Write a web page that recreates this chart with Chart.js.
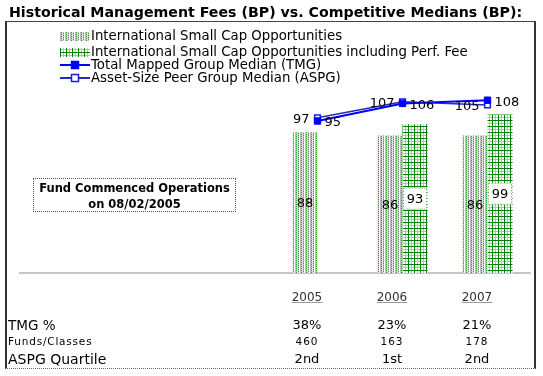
<!DOCTYPE html>
<html>
<head>
<meta charset="utf-8">
<script src="https://cdn.jsdelivr.net/npm/chart.js@4"></script>
<style>
    body { margin: 0; background: #fff; font-family: "DejaVu Sans", Verdana, sans-serif; }
    #wrap { position: relative; width: 543px; height: 376px; overflow: hidden; }
    #chart { position: absolute; left: 0; top: 0; }
    #frame { position: absolute; left: 5px; top: 21px; width: 527px; height: 346px;
             border-left: 2px solid #333; border-top: 1px solid #444;
             border-right: 2px solid #333; border-bottom: 1px dotted #666; }
    .txt { position: absolute; white-space: nowrap; color: #000; }
    #title { left: 9px; top: 4px; font-size: 14.2px; font-weight: bold; }
    .legend-row { position: absolute; left: 60px; height: 14px; font-size: 13.3px; line-height: 14px; white-space: nowrap; }
    .legend-row canvas { position: absolute; left: 0; top: 1px; }
    .legend-row span { position: absolute; left: 31px; top: 0; }
    #note { position: absolute; left: 33px; top: 178px; width: 203px; height: 34px;
            border: 1px dotted #555; font-size: 11.5px; font-weight: bold; text-align: center; line-height: 16px; padding-top: 1px; box-sizing: border-box; }
    .col { position: absolute; width: 60px; text-align: center; white-space: nowrap; }
</style>
</head>
<body>
<div id="wrap">
    <canvas id="chart" width="543" height="376"></canvas>
    <div id="frame"></div>
    <div class="txt" id="title">Historical Management Fees (BP) vs. Competitive Medians (BP):</div>
    <div id="legend"></div>
    <div id="note">Fund Commenced Operations<br>on 08/02/2005</div>
    <div id="table"></div>
</div>
<script>
///////////////////////////// Data /////////////////////////////

const categories = ['', '', '', '2005', '2006', '2007'];
const iscoFees = [null, null, null, 88, 86, 86];
const iscoPerfFees = [null, null, null, null, 93, 99];
const tmgMedian = [null, null, null, 95, 106, 108];
const aspgMedian = [null, null, null, 97, 107, 105];

const tableYears = ['2005', '2006', '2007'];
const tmgPct = ['38%', '23%', '21%'];
const fundsClasses = ['460', '163', '178'];
const aspgQuartile = ['2nd', '1st', '2nd'];

///////////////////////////// Patterns /////////////////////////////

// Light dotted texture for the plain fee bars
function lightPattern(ctx) {
    const tile = document.createElement('canvas');
    tile.width = 5;
    tile.height = 4;
    const t = tile.getContext('2d');
    t.fillStyle = '#ffffff';
    t.fillRect(0, 0, 5, 4);
    t.fillStyle = '#bcbcbc';
    t.fillRect(0, 0, 1, 4);
    t.fillStyle = '#2f9f2f';
    t.fillRect(1, 0, 1, 1);
    t.fillRect(1, 2, 1, 1);
    t.fillRect(3, 1, 1, 1);
    t.fillRect(3, 3, 1, 1);
    t.fillStyle = '#a6dca6';
    t.fillRect(1, 1, 1, 1);
    t.fillRect(1, 3, 1, 1);
    t.fillStyle = '#c8c8c8';
    t.fillRect(3, 0, 1, 1);
    t.fillRect(3, 2, 1, 1);
    t.fillStyle = '#e4e4e4';
    t.fillRect(2, 0, 1, 4);
    return ctx.createPattern(tile, 'repeat');
}

// Green grid texture for the bars including performance fee
function gridPattern(ctx) {
    const tile = document.createElement('canvas');
    tile.width = 6;
    tile.height = 6;
    const t = tile.getContext('2d');
    t.fillStyle = '#ffffff';
    t.fillRect(0, 0, 6, 6);
    t.fillStyle = '#9fd09f';
    t.fillRect(3, 0, 1, 6);
    t.fillRect(0, 3, 6, 1);
    t.fillStyle = '#008000';
    t.fillRect(0, 0, 1, 6);
    t.fillRect(0, 0, 6, 1);
    return ctx.createPattern(tile, 'repeat');
}

///////////////////////////// Labels plugin /////////////////////////////

const valueLabels = {
    id: 'valueLabels',
    afterDatasetsDraw(chart) {
        const ctx = chart.ctx;
        ctx.save();
        ctx.font = '13px "DejaVu Sans"';
        ctx.fillStyle = '#000';
        ctx.textBaseline = 'middle';
        chart.data.datasets.forEach((ds, i) => {
            const meta = chart.getDatasetMeta(i);
            meta.data.forEach((el, j) => {
                const v = ds.data[j];
                if (v === null) return;
                if (ds.type === 'bar') {
                    const y = (el.y + el.base) / 2;
                    if (ds.labelBox) {
                        ctx.fillStyle = '#fff';
                        ctx.fillRect(el.x - 12, y - 11, 24, 22);
                        ctx.strokeStyle = '#3a9a3a';
                        ctx.lineWidth = 1;
                        ctx.setLineDash([1, 2]);
                        ctx.strokeRect(el.x - 11.5, y - 10.5, 23, 21);
                        ctx.setLineDash([]);
                        ctx.fillStyle = '#000';
                    }
                    ctx.textAlign = 'center';
                    ctx.fillText(v, el.x, y + 1);
                } else {
                    ctx.textAlign = ds.labelSide === 'left' ? 'right' : 'left';
                    const dx = ds.labelSide === 'left' ? -8 : 7;
                    ctx.fillText(v, el.x + dx, el.y + 2);
                }
            });
        });
        ctx.restore();
    }
};

///////////////////////////// Chart /////////////////////////////

const canvas = document.getElementById('chart');
const ctx = canvas.getContext('2d');

const datasets = [
    {
        type: 'bar',
        label: 'International Small Cap Opportunities',
        data: iscoFees,
        backgroundColor: lightPattern(ctx),
        order: 1
    },
    {
        type: 'bar',
        label: 'International Small Cap Opportunities including Perf. Fee',
        data: iscoPerfFees,
        backgroundColor: gridPattern(ctx),
        labelBox: true,
        order: 1
    },
    {
        type: 'line',
        label: 'Total Mapped Group Median (TMG)',
        data: tmgMedian,
        borderColor: '#0000ff',
        borderWidth: 2,
        pointStyle: 'rect',
        pointRadius: 4.5,
        pointBackgroundColor: '#0000ff',
        pointBorderColor: '#0000ff',
        pointBorderWidth: 1,
        labelSide: 'right',
        order: 0
    },
    {
        type: 'line',
        label: 'Asset-Size Peer Group Median (ASPG)',
        data: aspgMedian,
        borderColor: '#2a2ab8',
        borderWidth: 1.5,
        pointStyle: 'rect',
        pointRadius: 4,
        pointBackgroundColor: '#ffffff',
        pointBorderColor: '#1a1ae0',
        pointBorderWidth: 1.5,
        labelSide: 'left',
        order: 0
    }
];

const myChart = new Chart(ctx, {
    data: { labels: categories, datasets: datasets },
    options: {
        responsive: false,
        animation: false,
        layout: { padding: { left: 20, right: 13, top: 49, bottom: 103 } },
        datasets: {
            bar: { categoryPercentage: 0.59, barPercentage: 1 }
        },
        plugins: {
            legend: { display: false },
            tooltip: { enabled: false }
        },
        scales: {
            x: {
                grid: { display: false, drawTicks: false },
                ticks: { display: false },
                border: { display: true, color: '#c6c6c6', width: 2 }
            },
            y: { display: false, min: 0, max: 140 }
        }
    },
    plugins: [valueLabels]
});

///////////////////////////// Legend /////////////////////////////

const legendTops = [29, 45, 57.5, 70.5];
const legend = document.getElementById('legend');
datasets.forEach((ds, i) => {
    const row = document.createElement('div');
    row.className = 'legend-row';
    row.style.top = legendTops[i] + 'px';
    const sw = document.createElement('canvas');
    sw.width = 31;
    sw.height = 12;
    const s = sw.getContext('2d');
    if (ds.type === 'bar') {
        s.fillStyle = ds.backgroundColor;
        s.fillRect(0, 2, 30, 9);
    } else {
        s.strokeStyle = ds.borderColor;
        s.lineWidth = 2;
        s.beginPath();
        s.moveTo(0, 6);
        s.lineTo(30, 6);
        s.stroke();
        s.fillStyle = ds.pointBackgroundColor;
        s.fillRect(11, 2, 8, 8);
        s.strokeStyle = ds.pointBorderColor;
        s.lineWidth = 1.5;
        s.strokeRect(11.5, 2.5, 7, 7);
    }
    const label = document.createElement('span');
    label.textContent = ds.label;
    row.appendChild(sw);
    row.appendChild(label);
    legend.appendChild(row);
});

///////////////////////////// Table under the chart /////////////////////////////

const colCenters = [307, 392, 477];
const table = document.getElementById('table');

function addText(text, left, top, css) {
    const d = document.createElement('div');
    d.className = 'txt';
    d.textContent = text;
    d.style.left = left + 'px';
    d.style.top = top + 'px';
    Object.assign(d.style, css || {});
    table.appendChild(d);
    return d;
}

function addRow(values, centerY, css) {
    values.forEach((v, i) => {
        const d = document.createElement('div');
        d.className = 'col';
        d.textContent = v;
        d.style.left = (colCenters[i] - 30) + 'px';
        d.style.top = (centerY - 8) + 'px';
        d.style.lineHeight = '16px';
        Object.assign(d.style, css || {});
        table.appendChild(d);
    });
}

addRow(tableYears, 297, { fontSize: '12px', color: '#333', textDecoration: 'underline', textDecorationColor: '#999' });
addRow(tmgPct, 325, { fontSize: '13px' });
addRow(fundsClasses, 341, { fontSize: '10.5px', letterSpacing: '1px' });
addRow(aspgQuartile, 359, { fontSize: '13px' });

addText('TMG %', 8, 317, { fontSize: '13.5px', lineHeight: '16px' });
addText('Funds/Classes', 8, 333, { fontSize: '10.5px', letterSpacing: '0.8px', lineHeight: '16px' });
addText('ASPG Quartile', 8, 351, { fontSize: '14px', lineHeight: '16px' });
</script>
</body>
</html>
